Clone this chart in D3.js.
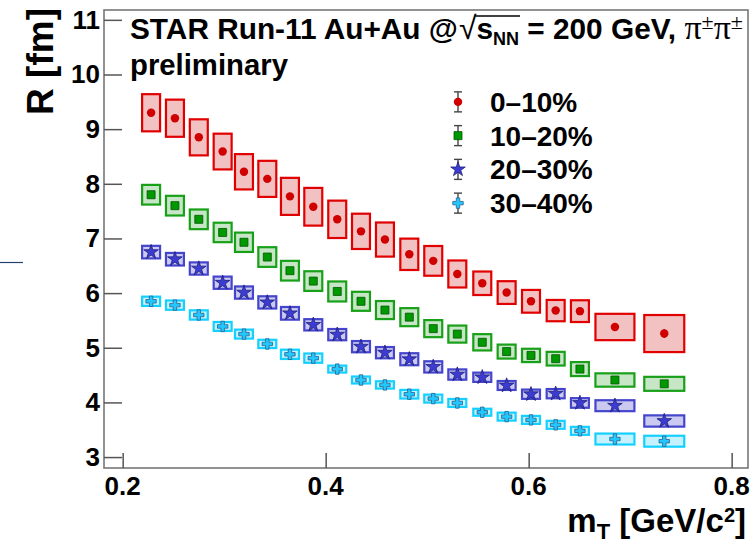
<!DOCTYPE html>
<html>
<head>
<meta charset="utf-8">
<script src="https://cdn.jsdelivr.net/npm/d3@7/dist/d3.min.js"></script>
<style>
  html, body { margin: 0; padding: 0; background: #fff; }
  svg { display: block; font-family: "Liberation Sans", Arial, sans-serif; }
</style>
</head>
<body>
<svg width="751" height="543"></svg>
<script>
// m_T bin centres and systematic box widths (GeV/c^2)
var binX = [0.228, 0.2515, 0.275, 0.2985, 0.3195, 0.3425, 0.3648, 0.3878, 0.4114, 0.4348, 0.4584,
            0.4824, 0.506, 0.5297, 0.5543, 0.5783, 0.6023, 0.6266, 0.6505, 0.685, 0.7336];
var boxW = [0.0177, 0.0177, 0.0177, 0.0177, 0.0177, 0.0177, 0.0177, 0.0177, 0.0177, 0.0177, 0.0177,
            0.0177, 0.0177, 0.0177, 0.0177, 0.0177, 0.0177, 0.0177, 0.0177, 0.0384, 0.0394];

// 0-10%
var r0010 = [9.3, 9.2, 8.85, 8.59, 8.22, 8.09, 7.77, 7.58, 7.35, 7.13, 6.98,
             6.71, 6.59, 6.35, 6.18, 6.01, 5.85, 5.68, 5.67, 5.38, 5.26];
var sys0010 = [0.34, 0.34, 0.33, 0.327, 0.323, 0.33, 0.339, 0.345, 0.342, 0.323, 0.312,
               0.287, 0.272, 0.247, 0.215, 0.208, 0.208, 0.195, 0.199, 0.241, 0.339];
var stat0010 = [0.03, 0.03, 0.03, 0.03, 0.03, 0.03, 0.03, 0.03, 0.03, 0.03, 0.03,
                0.03, 0.03, 0.03, 0.03, 0.03, 0.04, 0.04, 0.07, 0.05, 0.08];
// 10-20%
var r1020 = [7.8, 7.6, 7.35, 7.11, 6.93, 6.66, 6.41, 6.22, 6.03, 5.85, 5.69,
             5.56, 5.35, 5.25, 5.10, 4.93, 4.86, 4.80, 4.61, 4.41, 4.34];
var sys1020 = [0.18, 0.18, 0.18, 0.178, 0.177, 0.18, 0.18, 0.18, 0.183, 0.174, 0.165,
               0.165, 0.156, 0.156, 0.149, 0.128, 0.122, 0.125, 0.128, 0.122, 0.128];
var stat1020 = [0.03, 0.03, 0.03, 0.03, 0.03, 0.03, 0.03, 0.03, 0.03, 0.03, 0.03,
                0.03, 0.03, 0.03, 0.03, 0.03, 0.03, 0.03, 0.04, 0.04, 0.05];
// 20-30%
var r2030 = [6.75, 6.62, 6.45, 6.19, 6.01, 5.83, 5.63, 5.42, 5.24, 5.02, 4.91,
             4.79, 4.65, 4.51, 4.46, 4.31, 4.15, 4.16, 3.99, 3.94, 3.66];
var sys2030 = [0.115, 0.115, 0.112, 0.112, 0.112, 0.112, 0.116, 0.103, 0.103, 0.103, 0.103,
               0.11, 0.103, 0.094, 0.085, 0.082, 0.085, 0.085, 0.088, 0.10, 0.103];
var stat2030 = [0.03, 0.03, 0.03, 0.03, 0.03, 0.03, 0.03, 0.03, 0.03, 0.03, 0.03,
                0.04, 0.05, 0.03, 0.03, 0.03, 0.03, 0.06, 0.06, 0.04, 0.04];
// 30-40%
var r3040 = [5.85, 5.78, 5.6, 5.39, 5.25, 5.07, 4.88, 4.81, 4.61, 4.41, 4.32,
             4.15, 4.07, 3.99, 3.82, 3.74, 3.68, 3.59, 3.48, 3.33, 3.29];
var sys3040 = [0.085, 0.085, 0.085, 0.082, 0.082, 0.076, 0.085, 0.085, 0.064, 0.064, 0.067,
               0.079, 0.073, 0.073, 0.064, 0.073, 0.073, 0.073, 0.073, 0.10, 0.10];
var stat3040 = [0.03, 0.03, 0.03, 0.03, 0.03, 0.03, 0.03, 0.03, 0.03, 0.03, 0.03,
                0.03, 0.03, 0.03, 0.03, 0.03, 0.03, 0.03, 0.04, 0.04, 0.04];

var legendLabels = ["0\u201310%", "10\u201320%", "20\u201330%", "30\u201340%"];
var xTicks = [0.2, 0.4, 0.6, 0.8];
var yTicks = [3, 4, 5, 6, 7, 8, 9, 10, 11];

/**
 * svg set up
 */
var svg = d3.select("svg"),
    width = +svg.attr("width"),
    height = +svg.attr("height");

var margin = {left: 104, right: 3, top: 10, bottom: 75};

var x = d3.scaleLinear().domain([0.1816, 0.8161]).range([margin.left, width - margin.right]);
var y = d3.scaleLinear().domain([2.8, 11.18]).range([height - margin.bottom, margin.top]);

var series = [
  {vals: r0010, sys: sys0010, stat: stat0010, line: "#e00000", fill: "#f2c2c2",
   mark: "#d00000", edge: "none", sym: d3.symbolCircle, size: 56},
  {vals: r1020, sys: sys1020, stat: stat1020, line: "#18a018", fill: "#c6e6c6",
   mark: "#009a00", edge: "#005500", sym: d3.symbolSquare, size: 64},
  {vals: r2030, sys: sys2030, stat: stat2030, line: "#4444cc", fill: "#cacaf0",
   mark: "#3c3cd2", edge: "#20207a", sym: d3.symbolStar, size: 66},
  {vals: r3040, sys: sys3040, stat: stat3040, line: "#14d0ff", fill: "#c6f2ff",
   mark: "#20c8ff", edge: "#2a5f8a", sym: d3.symbolCross, size: 60}
];

// stray line at the left edge of the picture
svg.append("line")
    .attr("x1", 0).attr("x2", 23).attr("y1", 262.5).attr("y2", 262.5)
    .attr("stroke", "#23406e").attr("stroke-width", 1.2);

/**
 * systematic boxes, stat bars and markers
 */
series.forEach(function(s) {
  var g = svg.append("g");
  var pts = binX.map(function(bx, i) {
    return {x: bx, w: boxW[i], v: s.vals[i], sys: s.sys[i], stat: s.stat[i]};
  });

  g.selectAll("rect")
    .data(pts)
    .enter().append("rect")
      .attr("x", function(d) { return x(d.x - d.w / 2); })
      .attr("width", function(d) { return x(d.x + d.w / 2) - x(d.x - d.w / 2); })
      .attr("y", function(d) { return y(d.v + d.sys); })
      .attr("height", function(d) { return y(d.v - d.sys) - y(d.v + d.sys); })
      .attr("fill", s.fill)
      .attr("stroke", s.line)
      .attr("stroke-width", 2.2);

  g.selectAll("line")
    .data(pts)
    .enter().append("line")
      .attr("x1", function(d) { return x(d.x); })
      .attr("x2", function(d) { return x(d.x); })
      .attr("y1", function(d) { return y(d.v + d.stat); })
      .attr("y2", function(d) { return y(d.v - d.stat); })
      .attr("stroke", "#222")
      .attr("stroke-width", 1.4);

  g.selectAll("path")
    .data(pts)
    .enter().append("path")
      .attr("transform", function(d) { return "translate(" + x(d.x) + "," + y(d.v) + ")"; })
      .attr("d", d3.symbol().type(s.sym).size(s.size))
      .attr("fill", s.mark)
      .attr("stroke", s.edge)
      .attr("stroke-width", 0.8);
});

/**
 * frame and axes
 */
var axisColor = "#555";
svg.append("rect")
    .attr("x", margin.left).attr("y", margin.top)
    .attr("width", width - margin.right - margin.left)
    .attr("height", height - margin.bottom - margin.top)
    .attr("fill", "none").attr("stroke", "#777").attr("stroke-width", 1.6);

var xAxis = svg.append("g")
    .attr("transform", "translate(0," + (height - margin.bottom) + ")");
xAxis.call(d3.axisTop(x).tickValues(d3.range(0.2, 0.801, 0.05)).tickSize(8).tickFormat(""));
xAxis.call(d3.axisTop(x).tickValues(xTicks).tickSize(15).tickFormat(""));
xAxis.selectAll(".domain").remove();
xAxis.selectAll("line").attr("stroke", axisColor).attr("stroke-width", 1.5);

svg.append("g").selectAll("text")
    .data(xTicks)
    .enter().append("text")
      .attr("x", function(d) { return x(d); })
      .attr("y", 495)
      .attr("text-anchor", "middle")
      .attr("font-weight", "bold")
      .attr("font-size", 26)
      .text(function(d) { return d.toFixed(1); });

var yAxis = svg.append("g")
    .attr("transform", "translate(" + margin.left + ",0)");
yAxis.call(d3.axisRight(y).tickValues(d3.range(2.8, 11.19, 0.2)).tickSize(9).tickFormat(""));
yAxis.call(d3.axisRight(y).tickValues(yTicks).tickSize(18).tickFormat(""));
yAxis.selectAll(".domain").remove();
yAxis.selectAll("line").attr("stroke", axisColor).attr("stroke-width", 1.5);

svg.append("g").selectAll("text")
    .data(yTicks)
    .enter().append("text")
      .attr("x", 100)
      .attr("y", function(d) { return y(d) + 9; })
      .attr("text-anchor", "end")
      .attr("font-weight", "bold")
      .attr("font-size", 26)
      .text(function(d) { return d; });

// axis titles
svg.append("text")
    .attr("transform", "translate(53,8) rotate(-90)")
    .attr("text-anchor", "end")
    .attr("font-weight", "bold")
    .attr("font-size", 37)
    .text("R [fm]");

var xt = svg.append("text")
    .attr("x", 746).attr("y", 532)
    .attr("text-anchor", "end")
    .attr("font-weight", "bold")
    .attr("font-size", 33);
xt.append("tspan").text("m");
xt.append("tspan").attr("font-size", 22).attr("dy", 7).text("T");
xt.append("tspan").attr("dy", -7).text(" [GeV/c");
xt.append("tspan").attr("font-size", 20).attr("dy", -10).text("2");
xt.append("tspan").attr("dy", 10).text("]");

/**
 * header text
 */
var title = svg.append("text")
    .attr("x", 130).attr("y", 39)
    .attr("font-weight", "bold")
    .attr("font-size", 29.8);
title.append("tspan").text("STAR Run-11 Au+Au @");
title.append("tspan").attr("font-weight", "normal").attr("font-size", 32).attr("dx", 1).text("\u221A");
title.append("tspan").text("s");
title.append("tspan").attr("font-size", 18).attr("dy", 6).text("NN");
title.append("tspan").attr("dy", -6).text(" = 200 GeV,  ");
var serif = "'Liberation Serif', 'DejaVu Serif', serif";
title.append("tspan").attr("font-family", serif).attr("font-weight", "normal")
    .attr("font-size", 34).text("\u03C0");
title.append("tspan").attr("font-family", serif).attr("font-weight", "normal")
    .attr("font-size", 22).attr("dy", -10).text("\u00B1");
title.append("tspan").attr("font-family", serif).attr("font-weight", "normal")
    .attr("font-size", 34).attr("dy", 10).text("\u03C0");
title.append("tspan").attr("font-family", serif).attr("font-weight", "normal")
    .attr("font-size", 22).attr("dy", -10).text("\u00B1");

// bar of the square root over s_NN
var tnode = title.node();
var sqrtIdx = "STAR Run-11 Au+Au @".length;
var barX1 = tnode.getEndPositionOfChar(sqrtIdx).x - 1;
var barX2 = tnode.getEndPositionOfChar(sqrtIdx + 3).x + 1;
svg.append("line")
    .attr("x1", barX1).attr("x2", barX2)
    .attr("y1", 16).attr("y2", 16)
    .attr("stroke", "#000").attr("stroke-width", 1.6);

svg.append("text")
    .attr("x", 130).attr("y", 75)
    .attr("font-weight", "bold")
    .attr("font-size", 29.3)
    .text("preliminary");

/**
 * legend
 */
var legY = d3.scaleBand().domain(legendLabels).range([85, 220]);
var leg = svg.append("g");
series.forEach(function(s, i) {
  var cy = legY(legendLabels[i]) + legY.bandwidth() / 2;
  var lg = leg.append("g").attr("transform", "translate(458," + cy + ")");
  lg.append("line").attr("x1", 0).attr("x2", 0).attr("y1", -10).attr("y2", 10)
      .attr("stroke", "#444").attr("stroke-width", 1.4);
  lg.append("line").attr("x1", -4).attr("x2", 4).attr("y1", -10).attr("y2", -10)
      .attr("stroke", "#444").attr("stroke-width", 1.4);
  lg.append("line").attr("x1", -4).attr("x2", 4).attr("y1", 10).attr("y2", 10)
      .attr("stroke", "#444").attr("stroke-width", 1.4);
  lg.append("path")
      .attr("d", d3.symbol().type(s.sym).size(s.size))
      .attr("fill", s.mark)
      .attr("stroke", s.edge)
      .attr("stroke-width", 0.8);
  leg.append("text")
      .attr("x", 490).attr("y", cy + 10)
      .attr("font-weight", "bold")
      .attr("font-size", 28)
      .text(legendLabels[i]);
});
</script>
</body>
</html>
